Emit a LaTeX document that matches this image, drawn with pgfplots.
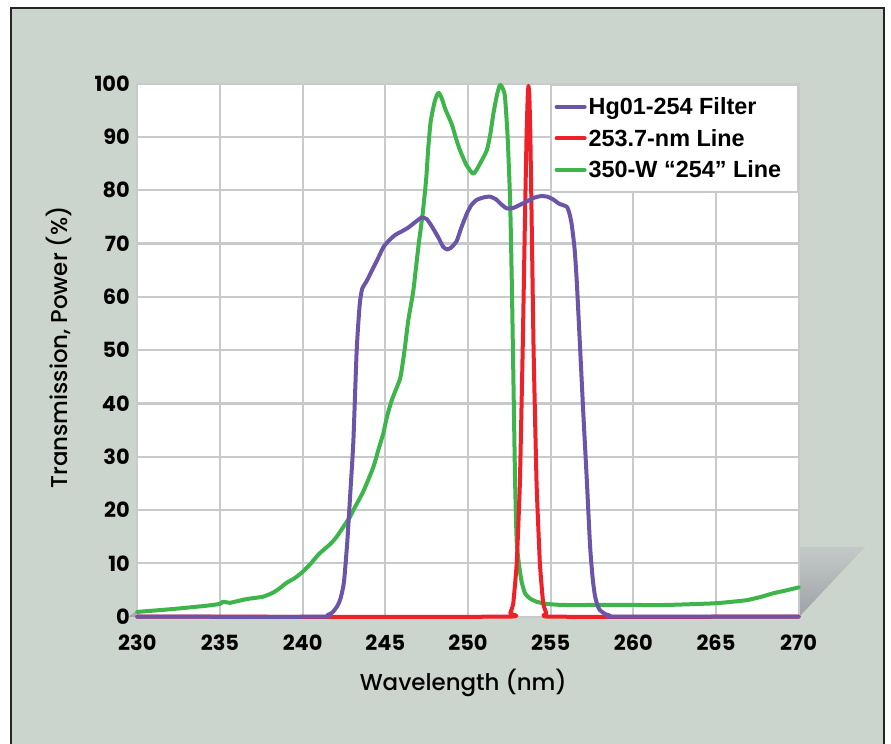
\documentclass[border=0pt]{standalone}
\usepackage{pgfplots}
\pgfplotsset{compat=1.18}
\usepackage{fontspec}
\setmainfont{Poppins}
\newfontfamily\labfont{Poppins Medium}
\newfontfamily\legfont{Liberation Sans}
\definecolor{framebg}{HTML}{CBD5CE}
\definecolor{framedark}{HTML}{252525}
\definecolor{gridgray}{HTML}{C8C9CB}
\definecolor{cpurple}{HTML}{6A55A8}
\definecolor{cred}{HTML}{EE2128}
\definecolor{cgreen}{HTML}{3DB54A}
\definecolor{shtop}{HTML}{C4CAC8}
\definecolor{shbot}{HTML}{9FA1A6}
\begin{document}
\begin{tikzpicture}[x=1bp,y=1bp]
\useasboundingbox (0,0) rectangle (891,744);
\fill[framebg] (11,0) rectangle (884,736);
\draw[line width=2.5bp, framedark] (11,0) -- (11,736) -- (884,736) -- (884,0);
\shade[top color=shtop, bottom color=shbot] (799,197) -- (865,197) -- (799,127) -- cycle;
\fill[shbot!80!framebg] (128,127) -- (138,127) -- (138,134) -- cycle;
\begin{axis}[
  at={(137.3bp,127.3bp)}, anchor=south west,
  scale only axis, width=661.3bp, height=533bp,
  xmin=230, xmax=270, ymin=0, ymax=100,
  xtick={230,235,...,270}, ytick={0,10,...,100},
  axis background/.style={fill=white},
  grid=major,
  major grid style={gridgray, line width=2.2bp},
  axis line style={gridgray, line width=2.2bp},
  major tick length=0pt,
  clip=false,
  /pgf/number format/assume math mode=true,
  /pgf/number format/1000 sep={},
  ticklabel style={font=\fontsize{21}{24}\selectfont\bfseries},
  yticklabel style={xshift=-4bp},
  xticklabel style={yshift=-15bp},
  xlabel={Wavelength (nm)},
  ylabel={Transmission, Power (\%)},
  label style={font=\labfont\fontsize{23}{26}\selectfont},
  xlabel style={at={(axis description cs:0.493,-0.124)}, anchor=center},
  ylabel style={at={(axis description cs:-0.1185,0.505)}, anchor=center},
  legend cell align=left,
  legend style={at={(1,1)}, anchor=north east, draw=gridgray, line width=2bp, fill=white,
    font=\legfont\bfseries\fontsize{23.5}{27}\selectfont, inner xsep=4bp, inner ysep=11bp,
    row sep=9bp},
  legend image code/.code={\draw[#1, line width=4bp] (0bp,0bp) -- (28bp,0bp);},
  every axis plot/.append style={line join=round, line cap=round},
]
\addlegendimage{cpurple, line width=4bp}
\addlegendentry{\makebox[203bp][l]{Hg01-254 Filter}}
\addlegendimage{cred, line width=4bp}
\addlegendentry{\makebox[203bp][l]{253.7-nm Line}}
\addlegendimage{cgreen, line width=4bp}
\addlegendentry{\makebox[203bp][l]{350-W “254” Line}}

% 350-W "254" Line
\addplot[cgreen, line width=4bp, smooth, tension=0.35, forget plot] coordinates {
(230,0.9) (232,1.4) (234,2.0) (235,2.4) (235.15,2.8) (235.4,2.7) (235.6,2.6)
(236.6,3.3) (237.6,3.75) (238.2,4.5) (238.6,5.3) (239.0,6.3) (239.5,7.2)
(240.0,8.4) (240.5,10) (241.0,11.8) (241.66,13.6) (242.06,15) (242.87,18.75)
(243.07,20) (243.67,23.5) (244.28,28.1) (244.58,31.3) (244.88,34.4) (245.1,37.5)
(245.39,40.6) (245.89,44.6) (246.05,47.5) (246.19,50.6) (246.39,55.6) (246.7,61.3)
(247.0,69.4) (247.26,75.6) (247.47,82) (247.6,88) (247.75,93) (248.0,96.8)
(248.21,98.3) (248.4,97.4) (248.62,95.3) (249.02,92.4) (249.3,89.5) (249.52,87.5)
(249.9,84.8) (250.33,83.1) (250.73,85) (251.14,87.5) (251.35,90.5) (251.54,94.4)
(251.75,97.8) (251.94,99.8) (252.12,99) (252.24,97.5) (252.4,90) (252.55,78)
(252.65,63.1) (252.75,44.4) (252.85,25.6) (252.95,14) (253.1,9.5) (253.25,6.5)
(253.45,4.4) (253.76,3.4) (254.16,2.8) (254.77,2.4) (255.77,2.2) (258,2.2)
(260,2.2) (262,2.2) (264.84,2.5) (265.8,2.75) (266.86,3.1) (267.7,3.7)
(268.47,4.4) (269.2,4.9) (270,5.5)
};
% 253.7-nm Line
\addplot[cred, line width=4bp, smooth, tension=0.2, forget plot] coordinates {
(230,0) (252.3,0) (252.55,0.6) (252.74,2.5) (252.95,10) (253.14,25) (253.31,50)
(253.45,75) (253.55,91) (253.62,98) (253.66,99.6) (253.71,98) (253.77,91) (253.85,75) (253.97,50)
(254.15,25) (254.35,10) (254.55,2.5) (254.75,0.6) (255,0) (270,0)
};
% Hg01-254 Filter
\addplot[cpurple, line width=4bp, smooth, tension=0.35, forget plot] coordinates {
(230,0) (241.0,0) (241.5,0.3) (241.8,0.8) (242.1,2) (242.3,3.5) (242.5,6.5)
(242.7,14) (242.9,24) (243.07,33) (243.27,50) (243.45,58.5) (243.6,61.5)
(243.88,63) (244.28,65.5) (244.6,67.5) (244.88,69.3) (245.2,70.5) (245.59,71.6)
(246.0,72.3) (246.39,73) (246.8,74) (247.2,74.9) (247.5,74.6) (247.8,73.3)
(248.2,71.2) (248.5,69.4) (248.75,68.9) (249.0,69.3) (249.32,70.5) (249.6,73)
(249.93,75.6) (250.2,77.2) (250.53,78.2) (251.0,78.7) (251.34,78.8) (251.7,78.3)
(252.0,77.4) (252.35,76.6) (252.75,76.7) (253.1,77.2) (253.56,77.9) (254.0,78.6)
(254.4,78.9) (254.8,78.8) (255.2,78.2) (255.5,77.5) (255.98,76.9) (256.15,75.5)
(256.28,73.5) (256.45,69) (256.58,63) (256.78,50.6) (256.98,38) (257.19,25.6)
(257.39,13.1) (257.55,7) (257.69,3.8) (257.85,2) (257.99,1.2) (258.3,0.5)
(258.6,0.2) (259,0) (270,0)
};
\end{axis}
\end{tikzpicture}
\end{document}
